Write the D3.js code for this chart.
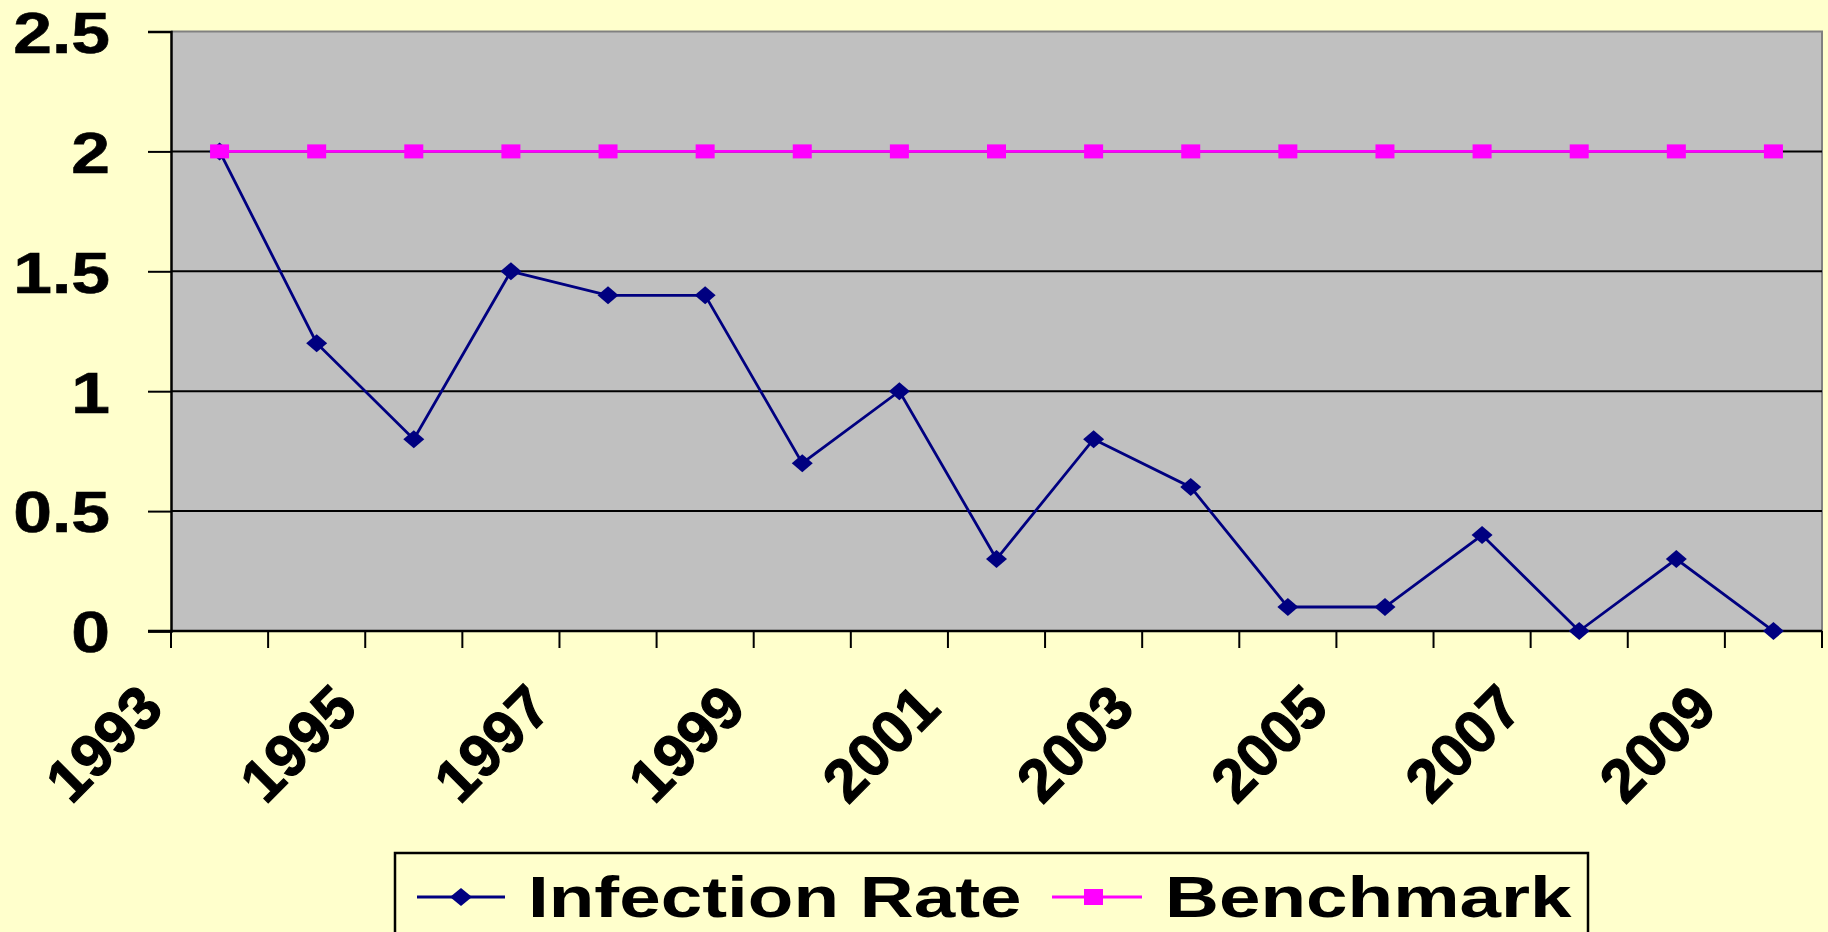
<!DOCTYPE html>
<html>
<head>
<meta charset="utf-8">
<script src="https://cdn.jsdelivr.net/npm/d3@7"></script>
<style>
  html, body { margin: 0; padding: 0; background: #FFFFCC; overflow: hidden; }
  text { font-family: "Liberation Sans", Arial, sans-serif; font-weight: bold; fill: #000; }
</style>
</head>
<body>
<div id="container"></div>
<script>
// Chart data
var years = ["1993", "1994", "1995", "1996", "1997", "1998", "1999", "2000", "2001",
             "2002", "2003", "2004", "2005", "2006", "2007", "2008", "2009"];
var infectionRate = [2, 1.2, 0.8, 1.5, 1.4, 1.4, 0.7, 1.0, 0.3, 0.8, 0.6, 0.1, 0.1, 0.4, 0, 0.3, 0];
var benchmark = [2, 2, 2, 2, 2, 2, 2, 2, 2, 2, 2, 2, 2, 2, 2, 2, 2];
var yTicks = [0, 0.5, 1, 1.5, 2, 2.5];
var yearLabels = ["1993", "1995", "1997", "1999", "2001", "2003", "2005", "2007", "2009"];
var seriesNames = ["Infection Rate", "Benchmark"];

// SVG dimensions
var width = 1828,
    height = 932;

// Plot area
var plotLeft = 171, plotRight = 1822, plotTop = 31.5, plotBottom = 631;

var svg = d3.select("#container")
    .append("svg")
    .attr("width", width)
    .attr("height", height);

svg.append("rect")
    .attr("width", width)
    .attr("height", height)
    .attr("fill", "#FFFFCC");

var xScale = d3.scaleBand()
    .domain(years)
    .range([plotLeft, plotRight])
    .padding(0);
var yScale = d3.scaleLinear()
    .domain([0, 2.5])
    .range([plotBottom, plotTop]);

function cx(d, i) { return xScale(years[i]) + xScale.bandwidth() / 2; }

// Plot background
svg.append("rect")
    .attr("x", plotLeft)
    .attr("y", plotTop)
    .attr("width", plotRight - plotLeft)
    .attr("height", plotBottom - plotTop)
    .attr("fill", "#C0C0C0");

// Gray border top and right
svg.append("path")
    .attr("d", "M" + plotLeft + "," + plotTop + "H" + plotRight + "V" + plotBottom)
    .attr("fill", "none")
    .attr("stroke", "#808080")
    .attr("stroke-width", 2);

// Gridlines
svg.selectAll(".grid")
    .data(yTicks.filter(function(d) { return d > 0 && d < 2.5; }))
    .enter()
    .append("line")
    .attr("class", "grid")
    .attr("x1", plotLeft)
    .attr("x2", plotRight)
    .attr("y1", function(d) { return yScale(d); })
    .attr("y2", function(d) { return yScale(d); })
    .attr("stroke", "#000")
    .attr("stroke-width", 2);

// Y axis
var yAxis = svg.append("g")
    .attr("transform", "translate(" + plotLeft + ",0)")
    .call(d3.axisLeft(yScale).tickValues(yTicks).tickSize(23).tickPadding(38)
        .tickFormat(function(d) { return String(d); }));
yAxis.select(".domain").attr("stroke", "#000").attr("stroke-width", 2.5);
yAxis.selectAll(".tick line").attr("stroke", "#000").attr("stroke-width", 2);
yAxis.selectAll(".tick text")
    .attr("x", 0)
    .attr("dy", "0.36em")
    .attr("transform", "translate(-61,0) scale(1.2,1)")
    .style("font-size", "58px")
    .style("font-family", "'Liberation Sans', Arial, sans-serif")
    .style("font-weight", "bold")
    .attr("fill", "#000")
    .attr("stroke", "#000")
    .attr("stroke-width", 0.6);

// X axis line and ticks at category boundaries
svg.append("line")
    .attr("x1", plotLeft - 23)
    .attr("x2", plotRight)
    .attr("y1", plotBottom)
    .attr("y2", plotBottom)
    .attr("stroke", "#000")
    .attr("stroke-width", 2.5);
svg.selectAll(".xtick")
    .data(years.concat(["end"]))
    .enter()
    .append("line")
    .attr("class", "xtick")
    .attr("x1", function(d, i) { return plotLeft + i * xScale.bandwidth(); })
    .attr("x2", function(d, i) { return plotLeft + i * xScale.bandwidth(); })
    .attr("y1", plotBottom)
    .attr("y2", plotBottom + 17)
    .attr("stroke", "#000")
    .attr("stroke-width", 2);

// Rotated year labels
svg.selectAll(".year")
    .data(yearLabels)
    .enter()
    .append("text")
    .attr("class", "year")
    .attr("text-anchor", "end")
    .attr("transform", function(d) {
        var x = xScale(d) + xScale.bandwidth() / 2 - 54;
        return "translate(" + x + "," + (plotBottom + 80) + ") rotate(-45)";
    })
    .style("font-size", "60px")
    .attr("stroke", "#000")
    .attr("stroke-width", 1.2)
    .text(function(d) { return d; });

// Infection rate line
var line = d3.line()
    .x(function(d, i) { return cx(d, i); })
    .y(function(d) { return yScale(d); });

svg.append("path")
    .datum(infectionRate)
    .attr("d", line)
    .attr("fill", "none")
    .attr("stroke", "#000080")
    .attr("stroke-width", 2.8);

svg.selectAll(".diamond")
    .data(infectionRate)
    .enter()
    .append("path")
    .attr("class", "diamond")
    .attr("d", function(d, i) {
        var x = cx(d, i), y = yScale(d);
        return "M" + (x - 10.5) + "," + y + "L" + x + "," + (y - 9) + "L" + (x + 10.5) + "," + y + "L" + x + "," + (y + 9) + "Z";
    })
    .attr("fill", "#000080");

// Benchmark line
svg.append("path")
    .datum(benchmark)
    .attr("d", line)
    .attr("fill", "none")
    .attr("stroke", "#FF00FF")
    .attr("stroke-width", 2.8);

svg.selectAll(".square")
    .data(benchmark)
    .enter()
    .append("rect")
    .attr("class", "square")
    .attr("x", function(d, i) { return cx(d, i) - 9.5; })
    .attr("y", function(d) { return yScale(d) - 7; })
    .attr("width", 19)
    .attr("height", 14)
    .attr("fill", "#FF00FF");

// Legend
svg.append("rect")
    .attr("x", 395)
    .attr("y", 853)
    .attr("width", 1588 - 395)
    .attr("height", 120)
    .attr("fill", "#FFFFCC")
    .attr("stroke", "#000")
    .attr("stroke-width", 2.5);

var legendY = 897;
svg.append("line")
    .attr("x1", 417).attr("x2", 505)
    .attr("y1", legendY).attr("y2", legendY)
    .attr("stroke", "#000080").attr("stroke-width", 2.8);
svg.append("path")
    .attr("d", "M450," + legendY + "L461," + (legendY - 9) + "L472," + legendY + "L461," + (legendY + 9) + "Z")
    .attr("fill", "#000080");
svg.append("text")
    .attr("transform", "translate(528,917) scale(1.31,1)")
    .style("font-size", "57px")
    .text(seriesNames[0]);

svg.append("line")
    .attr("x1", 1052).attr("x2", 1142)
    .attr("y1", legendY).attr("y2", legendY)
    .attr("stroke", "#FF00FF").attr("stroke-width", 2.8);
svg.append("rect")
    .attr("x", 1084).attr("y", legendY - 8)
    .attr("width", 19).attr("height", 16)
    .attr("fill", "#FF00FF");
svg.append("text")
    .attr("transform", "translate(1165,917) scale(1.31,1)")
    .style("font-size", "57px")
    .text(seriesNames[1]);
</script>
</body>
</html>
